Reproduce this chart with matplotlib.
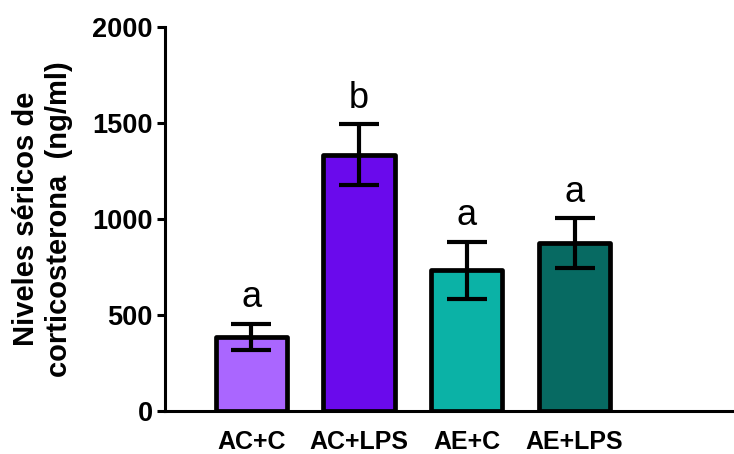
import numpy as np
import matplotlib
matplotlib.use('Agg')
import matplotlib.pyplot as plt

plt.rcParams['font.family'] = ['Liberation Sans', 'DejaVu Sans']

groups = ['AC+C', 'AC+LPS', 'AE+C', 'AE+LPS']
means = [385, 1335, 732, 875]
errs = [68, 158, 148, 128]
letters = ['a', 'b', 'a', 'a']
colors = ['#AA66FF', '#6A0AEC', '#0BB2A6', '#076A62']

fig = plt.figure(figsize=(7.34, 4.54), dpi=100)
ax = fig.add_axes([0.2248, 0.0947, 0.7752, 0.8458])

x = np.arange(len(groups))
bars = ax.bar(x, means, width=0.66, color=colors, edgecolor='black',
              linewidth=3.4, zorder=2)
for b in bars:
    b.set_joinstyle('round')

ax.errorbar(x, means, yerr=errs, fmt='none', ecolor='black', elinewidth=3.0,
            capsize=14.5, capthick=3.0, zorder=3)

for xi, m, e, lab in zip(x, means, errs, letters):
    ax.annotate(lab, (xi, m + e), xytext=(0, 12), textcoords='offset points',
                ha='center', va='baseline', fontsize=26)

ax.set_xlim(-0.8, 4.48)
ax.set_ylim(0, 2000)
ax.set_yticks([0, 500, 1000, 1500, 2000])
ax.set_xticks(x)
ax.set_xticklabels(groups, fontsize=18, fontweight='bold')
ax.tick_params(axis='x', length=0, pad=14)
ax.tick_params(axis='y', length=6, width=2.2, labelsize=19.5, pad=3)
for lab in ax.get_yticklabels():
    lab.set_fontweight('bold')

ax.spines['top'].set_visible(False)
ax.spines['right'].set_visible(False)
ax.spines['left'].set_linewidth(2.2)
ax.spines['bottom'].set_linewidth(2.2)

ax.set_ylabel('Niveles séricos de\ncorticosterona  (ng/ml)', fontsize=21,
              fontweight='bold', labelpad=14)

fig.savefig('out.png', dpi=100)
